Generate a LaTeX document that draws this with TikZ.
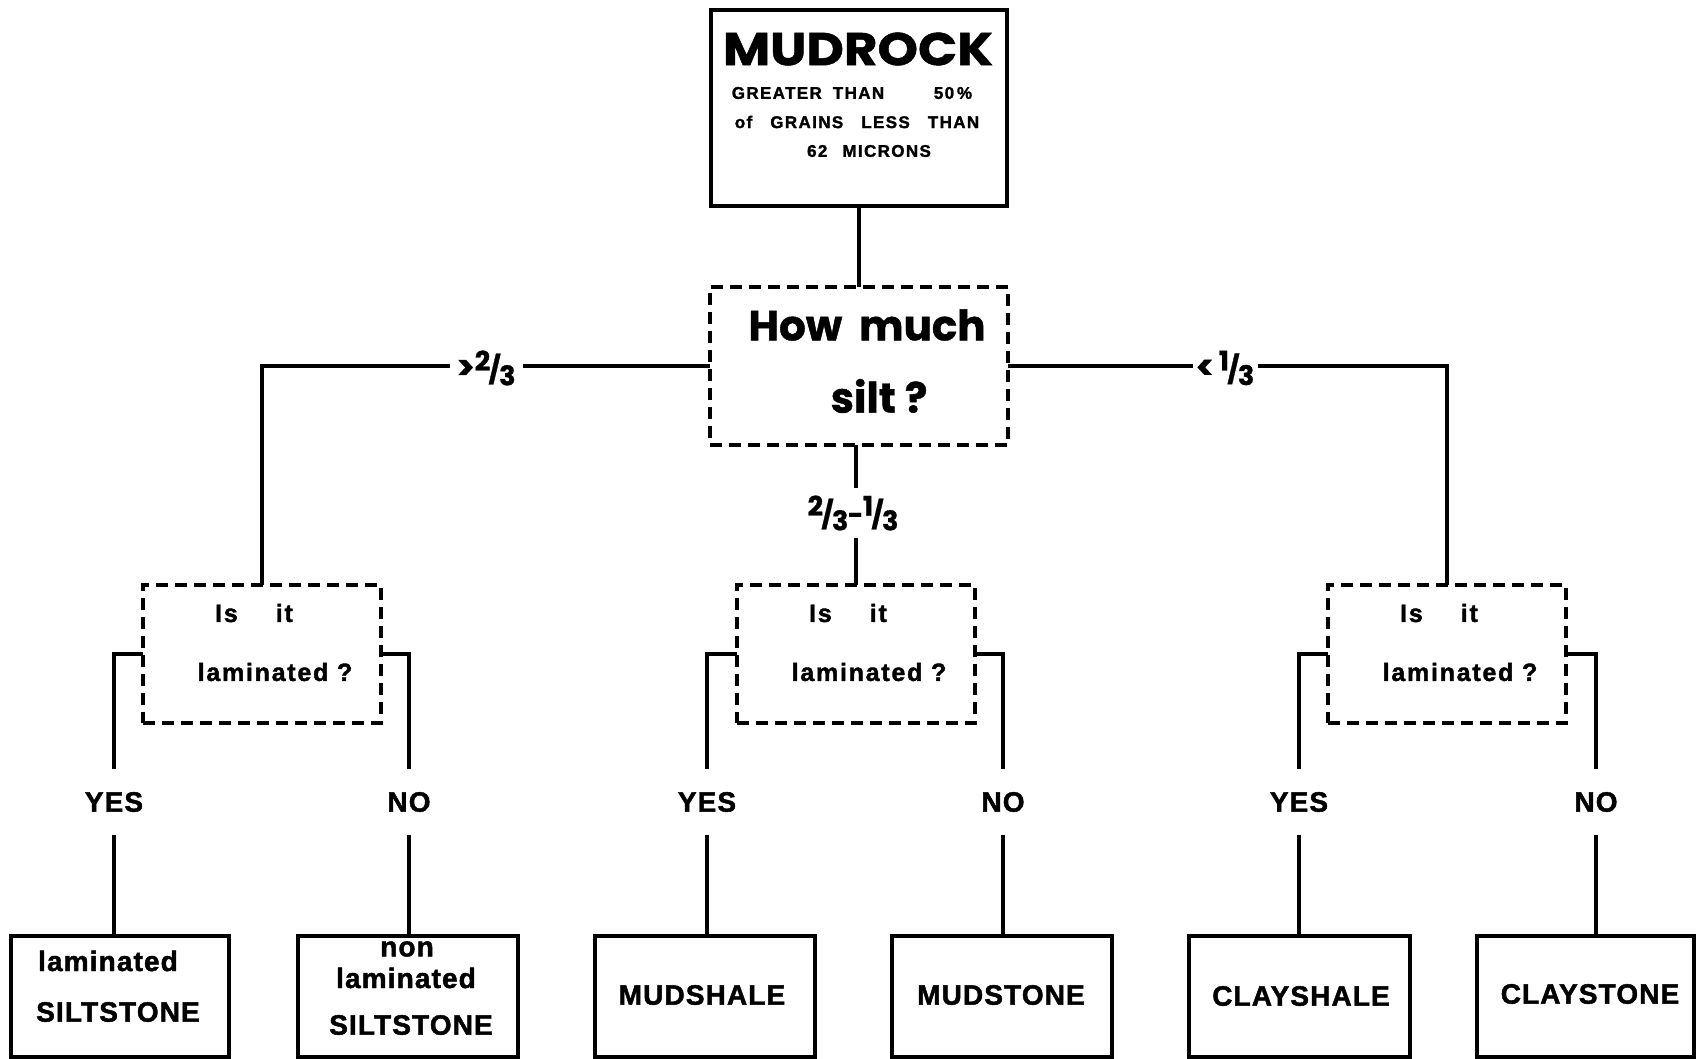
\documentclass[tikz,border=0pt]{standalone}
\usepackage{fontspec}
\setmainfont{Liberation Sans}
\newfontfamily\spacedA[LetterSpace=8,FakeBold=1.6]{Liberation Sans Bold}
\newfontfamily\spacedB[LetterSpace=7,FakeBold=1.6]{Liberation Sans Bold}
\newfontfamily\spacedC[LetterSpace=4,FakeBold=1.6]{Liberation Sans Bold}
\newfontfamily\geoB[FakeBold=1]{Poppins Bold}
\newcommand\fracx[2]{\raisebox{0.32em}{#1}\kern-0.06em/\kern-0.06em\raisebox{-0.22em}{#2}}
\begin{document}
\begin{tikzpicture}[x=1pt,y=-1pt,
  solidbox/.style={draw,line width=4pt,inner sep=0pt,outer sep=0pt},
  dashbox/.style={draw,line width=3.6pt,dash pattern=on 12pt off 7pt,inner sep=0pt,outer sep=0pt,minimum width=238pt,minimum height=138pt},
  endbox/.style={solidbox,minimum height=121pt},
  conn/.style={line width=4pt},
  txt/.style={inner sep=0pt,outer sep=0pt},
  smalltxt/.style={txt,font=\spacedA\fontsize{17}{17}\selectfont},
  qtxt/.style={txt,font=\spacedB\fontsize{25}{25}\selectfont},
  endtxt/.style={txt,font=\spacedC\fontsize{28}{28}\selectfont},
  yn/.style={txt,font=\spacedC\fontsize{28}{28}\selectfont,minimum height=66pt},
  bigtxt/.style={txt,font=\geoB\fontsize{42}{42}\selectfont},
  fraclab/.style={txt,font=\geoB\fontsize{27}{27}\selectfont}
]
\useasboundingbox (0,0) rectangle (1697,1059);

% top box
\node[solidbox,minimum width=296pt,minimum height=196pt] (mud) at (859,108) {};
\node[txt,font=\geoB\fontsize{46}{46}\selectfont] (mudt) at (858,49) {\scalebox{1.12}[1]{MUDROCK}};
\node[smalltxt] (m1a) at (808,93) {GREATER\hspace{5pt} THAN};
\node[smalltxt] (m1b) at (953,93) {50\,\%};
\node[smalltxt] (m2) at (857,122) {of\hspace{12pt} GRAINS\hspace{12pt} LESS\hspace{12pt} THAN};
\node[smalltxt] (m3) at (869,151) {62\hspace{9pt} MICRONS};

% silt question
\node[dashbox,minimum width=298pt,minimum height=158pt] (silt) at (859,366) {};
\node[bigtxt] (how) at (867,325) {How\hspace{8pt} much};
\node[bigtxt] (siltq) at (879,396) {silt ?};

% question boxes
\node[dashbox] (q1) at (262,654) {};
\node[dashbox] (q2) at (856,654) {};
\node[dashbox] (q3) at (1447,654) {};
\foreach \n/\x in {q1/262,q2/856,q3/1447}{
  \node[qtxt] (\n a) at (\x-8,613) {Is\hspace{38pt}it};
  \node[qtxt] (\n b) at (\x+13,672) {laminated ?};
}

% fraction labels
\node[fraclab,minimum width=73pt] (fl) at (486,368) {\scalebox{1.25}{\textgreater}\fracx{2}{3}};
\node[fraclab,minimum width=65pt] (fr) at (1225,368) {\scalebox{1.25}{\textless}\,\fracx{1}{3}};
\node[fraclab,minimum height=50pt] (fm) at (853,513) {\fracx{2}{3}\kern-0.02em-\kern-0.02em\fracx{1}{3}};

% end boxes
\node[endbox,minimum width=218pt] (b1) at (120,996) {};
\node[endbox,minimum width=220pt] (b2) at (408,996) {};
\node[endbox,minimum width=220pt] (b3) at (705,996) {};
\node[endbox,minimum width=220pt] (b4) at (1002,996) {};
\node[endbox,minimum width=221pt] (b5) at (1299,996) {};
\node[endbox,minimum width=217pt] (b6) at (1585,996) {};

\node[endtxt] (b1a) at (108,961) {laminated};
\node[endtxt] (b1b) at (118,1012) {SILTSTONE};
\node[endtxt] (b2a) at (407,949) {non};
\node[endtxt] (b2b) at (406,978) {laminated};
\node[endtxt] (b2c) at (411,1025) {SILTSTONE};
\node[endtxt] (b3a) at (702,995) {MUDSHALE};
\node[endtxt] (b4a) at (1001,995) {MUDSTONE};
\node[endtxt] (b5a) at (1301,996) {CLAYSHALE};
\node[endtxt] (b6a) at (1590,994) {CLAYSTONE};

% yes/no labels
\node[yn] (y1) at (114,802) {YES};
\node[yn] (n1) at (409,802) {NO};
\node[yn] (y2) at (707,802) {YES};
\node[yn] (n2) at (1003,802) {NO};
\node[yn] (y3) at (1299,802) {YES};
\node[yn] (n3) at (1596,802) {NO};

% connectors
\draw[conn] (mud.south) -- (silt.north);
\draw[conn] (silt.west) -- (fl.east |- silt.west);
\draw[conn] (fl.west |- silt.west) -| (q1.north);
\draw[conn] (silt.east) -- (fr.west |- silt.east);
\draw[conn] (fr.east |- silt.east) -| (q3.north);
\draw[conn] (q2.north |- silt.south) -- (q2.north |- fm.north);
\draw[conn] (q2.north |- fm.south) -- (q2.north);

\foreach \q/\y/\n/\b/\c in {q1/y1/n1/b1/b2, q2/y2/n2/b3/b4, q3/y3/n3/b5/b6}{
  \draw[conn] (\q.west) -| (\y.north);
  \draw[conn] (\q.east) -| (\n.north);
  \draw[conn] (\y.south) -- (\y.south |- \b.north);
  \draw[conn] (\n.south) -- (\n.south |- \c.north);
}
\end{tikzpicture}
\end{document}
